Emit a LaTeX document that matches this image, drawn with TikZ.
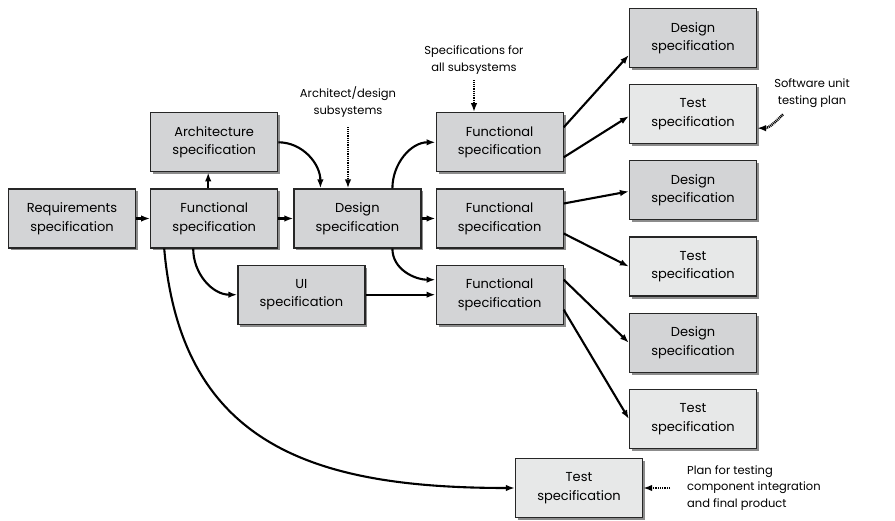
\documentclass[tikz,border=0pt]{standalone}
\usepackage{fontspec}
\setmainfont{Poppins}
\usetikzlibrary{arrows.meta, positioning, shadows}
\definecolor{corCaixa}{RGB}{211, 212, 214}
\definecolor{corTeste}{RGB}{231, 232, 232}
\begin{document}
\begin{tikzpicture}[x=1pt, y=1pt,
    spec/.style={draw=black!85, line width=1.2pt, fill=corCaixa, minimum width=127pt, minimum height=59pt,
                 align=center, font=\fontsize{13}{18.5}\selectfont,
                 drop shadow={shadow xshift=2.5pt, shadow yshift=-2.5pt, fill=black!45, opacity=1}},
    teste/.style={spec, fill=corTeste},
    nota/.style={align=center, inner sep=0pt, font=\fontsize{11.5}{16.5}\selectfont},
    seta/.style={-{Latex[length=9pt, width=6.5pt]}, line width=2.1pt},
    pont/.style={-{Latex[length=9pt, width=6.5pt]}, line width=2.6pt, dash pattern=on 1pt off 0.8pt},
    node distance=16pt and 14pt
]
\useasboundingbox (0,0) rectangle (895,-521);

\node[spec] (req) at (72,-218.5) {Requirements\\specification};
\node[spec, right=of req] (func) {Functional\\specification};
\node[spec, above=of func] (arch) {Architecture\\specification};
\node[spec, right=15pt of func] (des) {Design\\specification};
\node[spec, right=of des] (funcB) {Functional\\specification};
\node[spec, above=of funcB] (funcA) {Functional\\specification};
\node[spec, below=of funcB] (funcC) {Functional\\specification};
\node[spec, left=70pt of funcC] (ui) {UI\\specification};

\node[spec] (desA) at (693,-38) {Design\\specification};
\node[teste, below=of desA] (testA) {Test\\specification};
\node[spec, below=of testA] (desB) {Design\\specification};
\node[teste, below=of desB] (testB) {Test\\specification};
\node[spec, below=of testB] (desC) {Design\\specification};
\node[teste, below=of desC] (testC) {Test\\specification};
\node[teste] (testI) at (579,-488) {Test\\specification};

\node[nota] (notaArq) at (348,-102) {Architect/design\\subsystems};
\node[nota] (notaSub) at (474,-60) {Specifications for\\all subsystems};
\node[nota] (notaUnit) at (812,-93) {Software unit\\testing plan};
\node[nota, align=left, anchor=west] (notaInt) at (687,-488) {Plan for testing\\component integration\\and final product};

\draw[seta] (req) -- (func);
\draw[seta] ([xshift=-6pt]func.north) -- ([xshift=-6pt]arch.south);
\draw[seta] (func) -- (des);
\draw[seta] (arch.east) to[out=0, in=90] ([xshift=-37pt]des.north);
\draw[seta] ([xshift=35pt]des.north) to[out=90, in=180] (funcA.west);
\draw[seta] (des) -- (funcB);
\draw[seta] ([xshift=35pt]des.south) to[out=-90, in=180] ([yshift=15pt]funcC.west);
\draw[seta] ([xshift=-21pt]func.south) to[out=-90, in=180] (ui.west);
\draw[seta] ([xshift=-50pt]func.south) to[out=-85, in=180, looseness=1.2] (testI.west);
\draw[seta] (ui) -- (funcC);

\draw[seta] ([yshift=15pt]funcA.east) -- ([yshift=-17pt]desA.west);
\draw[seta] ([yshift=-15pt]funcA.east) -- ([yshift=-2pt]testA.west);
\draw[seta] ([yshift=15pt]funcB.east) -- ([yshift=-1pt]desB.west);
\draw[seta] ([yshift=-15pt]funcB.east) -- (testB.west);
\draw[seta] ([yshift=15pt]funcC.east) -- (desC.west);
\draw[seta] ([yshift=-15pt]funcC.east) -- (testC.west);

\draw[pont] ([yshift=-10pt]notaArq.south) -- (notaArq.south |- des.north);
\draw[pont] ([yshift=-6pt]notaSub.south) -- (notaSub.south |- funcA.north);
\draw[pont] ([xshift=-29pt, yshift=-7pt]notaUnit.south) to[out=-135, in=0] ([yshift=-14pt]testA.east);
\draw[pont] ([xshift=-17pt]notaInt.west |- testI.east) -- (testI.east);
\end{tikzpicture}
\end{document}
